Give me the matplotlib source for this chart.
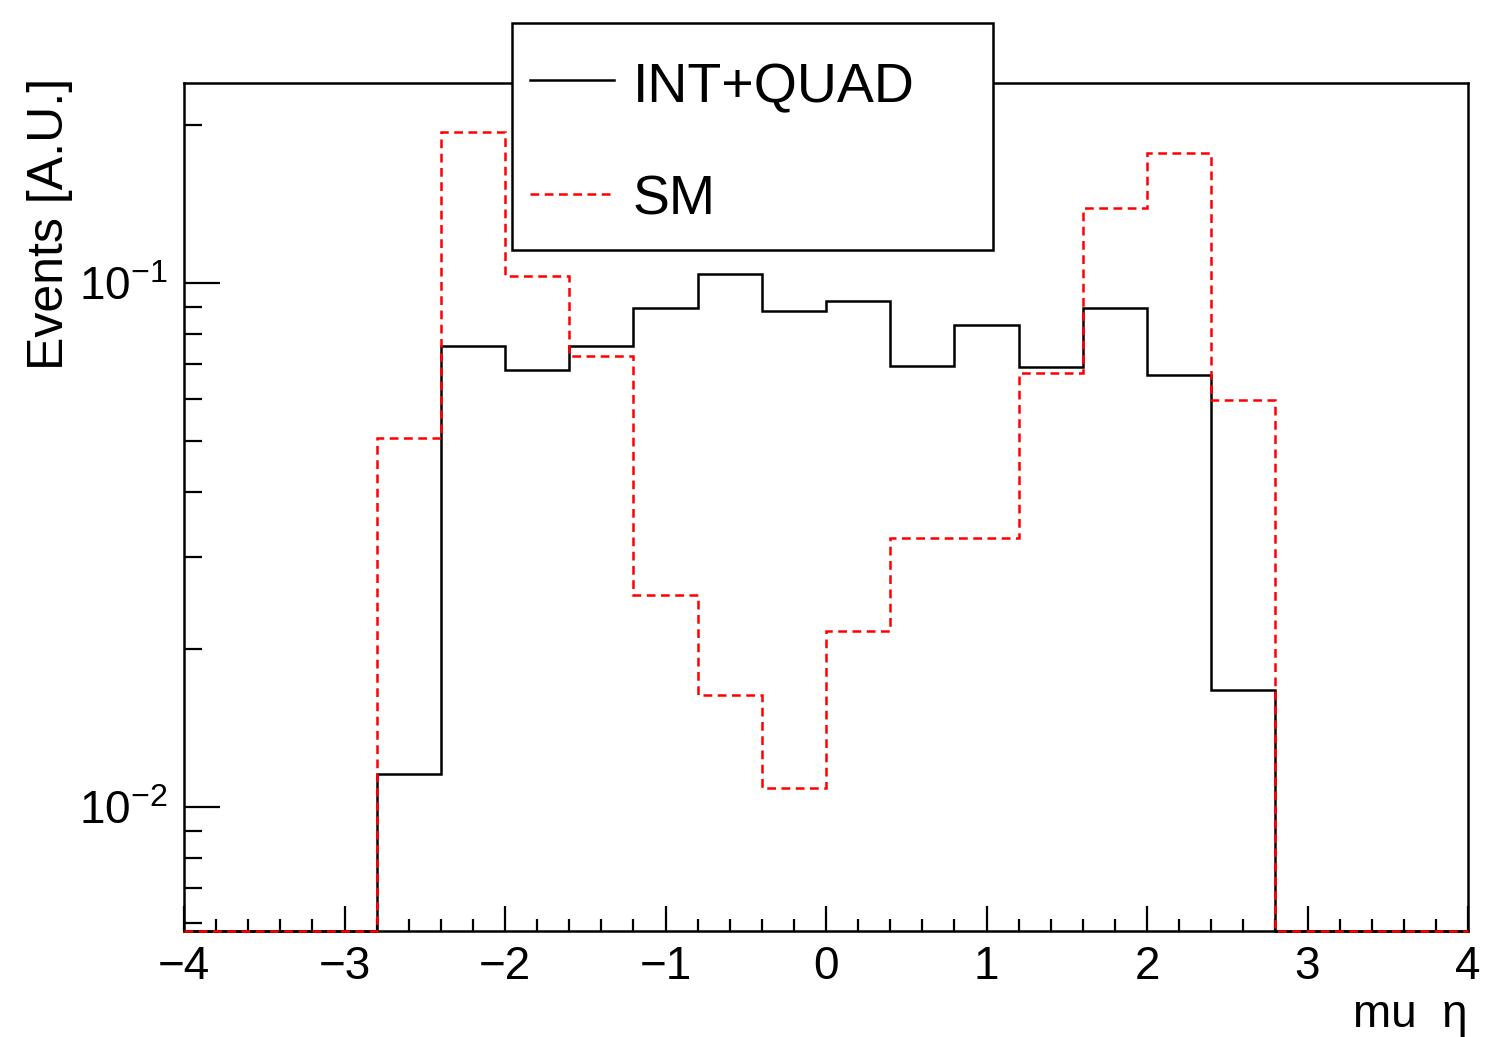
import numpy as np
import matplotlib
matplotlib.use("Agg")
import matplotlib.pyplot as plt
from matplotlib.patches import Rectangle
from matplotlib.lines import Line2D
from matplotlib.ticker import FixedLocator, MultipleLocator

plt.rcParams["font.family"] = ["Liberation Sans", "DejaVu Sans"]
plt.rcParams["mathtext.fontset"] = "custom"
plt.rcParams["mathtext.rm"] = "Liberation Sans"
plt.rcParams["mathtext.it"] = "Liberation Sans:italic"

# histogram data: 20 bins of width 0.4 from -4 to 4
bin_edges = np.linspace(-4, 4, 21)
int_quad = [0, 0, 0, 0.01156, 0.0758, 0.0682, 0.0758, 0.0896,
            0.104, 0.0884, 0.0924, 0.0695, 0.0832, 0.0692, 0.0896, 0.0667,
            0.01672, 0, 0, 0]
sm = [0, 0, 0, 0.0506, 0.194, 0.1031, 0.0726, 0.0254,
      0.01637, 0.01087, 0.0217, 0.0326, 0.0326, 0.0673, 0.139, 0.177,
      0.0598, 0, 0, 0]
labels = ["INT+QUAD", "SM"]

y_lo, y_hi = 0.0058, 0.241

W, H = 1486, 1037
fig = plt.figure(figsize=(W / 100, H / 100), dpi=100)
ax = fig.add_axes([184 / W, 1 - 931 / H, 1284 / W, 848 / H])

lw = 1.8
dash = (0, (3.5, 2.2))
ax.stairs(np.maximum(int_quad, y_lo), bin_edges, baseline=None,
          color="black", lw=lw, clip_on=False, zorder=3)
ax.stairs(np.maximum(sm, y_lo), bin_edges, baseline=None,
          color="red", lw=lw, linestyle=dash, clip_on=False, zorder=4)

ax.set_yscale("log")
ax.set_xlim(-4, 4)
ax.set_ylim(y_lo, y_hi)

# ROOT-like ticks: inside, bottom and left only
ax.xaxis.set_major_locator(MultipleLocator(1))
ax.xaxis.set_minor_locator(MultipleLocator(0.2))
ax.yaxis.set_major_locator(FixedLocator([0.01, 0.1]))
minors = [m * 10.0 ** e for e in (-3, -2, -1) for m in range(2, 10)]
ax.yaxis.set_minor_locator(FixedLocator(minors))
ax.set_yticklabels([r"$10^{-2}$", r"$10^{-1}$"])
ax.yaxis.set_minor_formatter(plt.NullFormatter())
ax.set_xticks(np.arange(-4, 5))
ax.set_xticklabels(["\u2212" + str(-v) if v < 0 else str(v) for v in range(-4, 5)])

ax.tick_params(axis="x", which="major", direction="in", length=18, width=1.6,
               labelsize=33, pad=10)
ax.tick_params(axis="x", which="minor", direction="in", length=9, width=1.6)
ax.tick_params(axis="y", which="major", direction="in", length=26, width=1.6,
               labelsize=33, pad=12)
ax.tick_params(axis="y", which="minor", direction="in", length=13, width=1.6)
for s in ax.spines.values():
    s.set_linewidth(1.8)

fig.text(50 / W, 1 - 78 / H, "Events [A.U.]", rotation=90, ha="center",
         va="top", fontsize=36)
fig.text(1468 / W, 1 - 1027 / H, "mu  \u03b7", ha="right", va="baseline",
         fontsize=33)

# legend box drawn in figure coordinates (overlaps the frame like ROOT's TLegend)
fig.add_artist(Rectangle((512 / W, 1 - 250 / H), 481 / W, 227 / H,
                         transform=fig.transFigure, facecolor="white",
                         edgecolor="black", lw=1.8, zorder=10))
fig.add_artist(Line2D([530 / W, 614 / W], [1 - 80 / H, 1 - 80 / H],
                      transform=fig.transFigure, color="black", lw=lw, zorder=11))
fig.add_artist(Line2D([530 / W, 610 / W], [1 - 194 / H, 1 - 194 / H],
                      transform=fig.transFigure, color="red", lw=lw,
                      linestyle=dash, zorder=11))
fig.text(633 / W, 1 - 88 / H, labels[0], ha="left", va="center", fontsize=40, zorder=12)
fig.text(633 / W, 1 - 200 / H, labels[1], ha="left", va="center", fontsize=40, zorder=12)

fig.savefig("out.png", dpi=100, facecolor="white")
